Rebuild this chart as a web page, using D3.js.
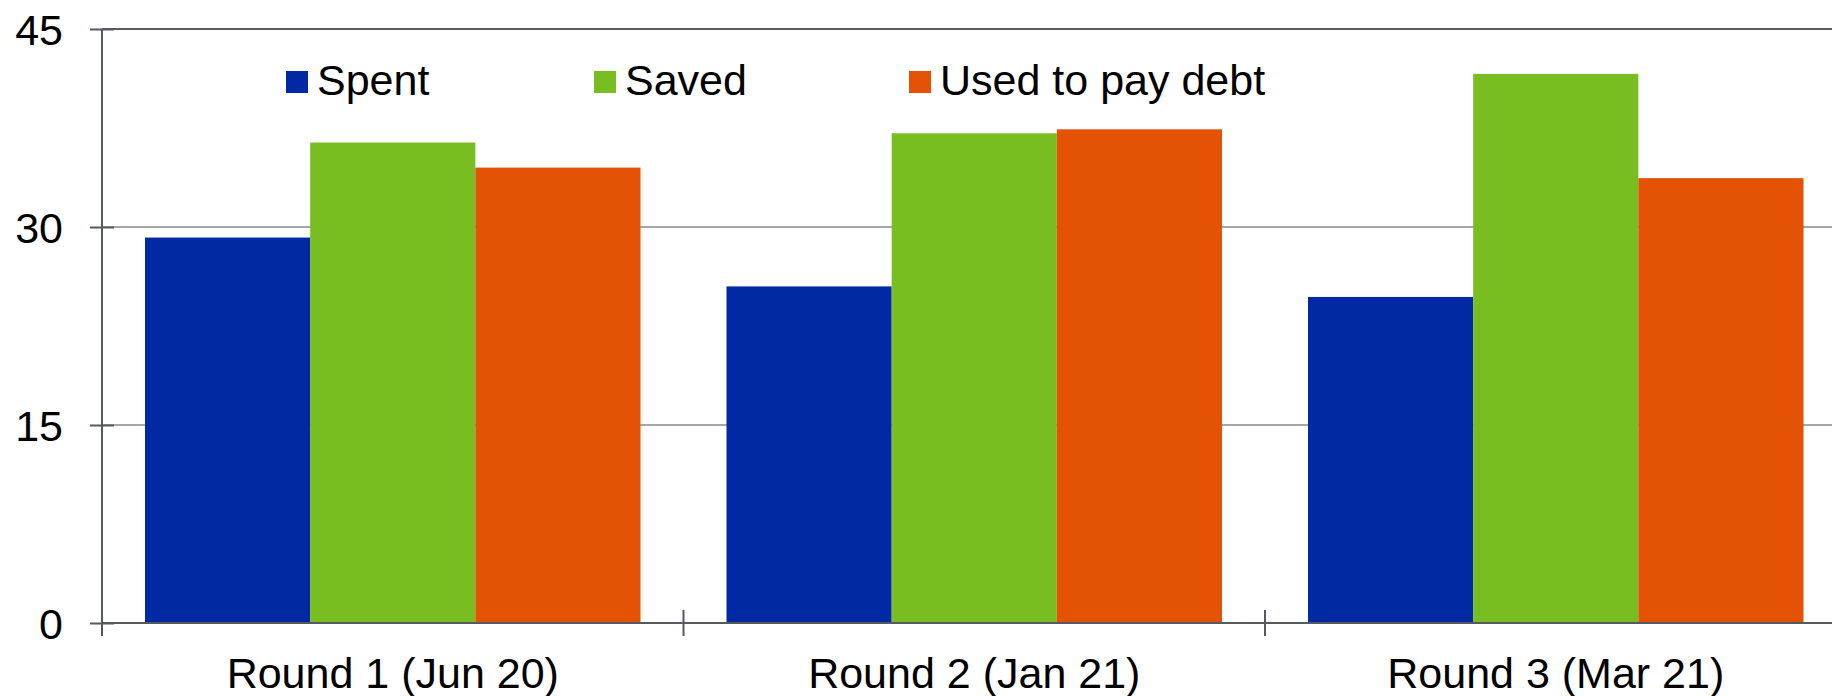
<!DOCTYPE html>
<html>
<head>
<meta charset="utf-8">
<script src="https://cdn.jsdelivr.net/npm/d3@7"></script>
<style>
  body { margin: 0; background: #fff; }
  svg { display: block; font-family: "Liberation Sans", Arial, sans-serif; }
</style>
</head>
<body>
<div id="chart"></div>
<script>
const rounds = ['Round 1 (Jun 20)', 'Round 2 (Jan 21)', 'Round 3 (Mar 21)']
const seriesNames = ['Spent', 'Saved', 'Used to pay debt']
const spent = [29.2, 25.5, 24.7]
const saved = [36.4, 37.1, 41.6]
const debt = [34.5, 37.4, 33.7]
const yTicks = [0, 15, 30, 45]
const colors = ['#0029a3', '#78be20', '#e35205']

const width = 1832
const height = 696
const margin = { left: 102, top: 29, bottom: 73 }

const values = [spent, saved, debt]
const rows = rounds.map((r, i) => ({ round: r, vals: values.map(v => v[i]) }))

const svg = d3.select('#chart')
  .append('svg')
  .attr('width', width)
  .attr('height', height)

const x = d3.scaleBand()
  .domain(rounds)
  .range([margin.left, margin.left + 3 * 581.5])
  .padding(0)

const gap = 43
const xs = d3.scaleBand()
  .domain(d3.range(seriesNames.length))
  .range([gap, x.bandwidth() - gap])
  .padding(0)

const y = d3.scaleLinear()
  .domain([0, 45])
  .range([height - margin.bottom, margin.top])

// gridlines
svg.append('g')
  .selectAll('line')
  .data(yTicks.filter(d => d > 0))
  .join('line')
  .attr('x1', margin.left)
  .attr('x2', width)
  .attr('y1', d => y(d))
  .attr('y2', d => y(d))
  .attr('stroke', d => d === 45 ? '#5a5f66' : '#a3a7ac')
  .attr('stroke-width', 2)

// bars
const group = svg.append('g')
  .selectAll('g')
  .data(rows)
  .join('g')
  .attr('transform', d => `translate(${x(d.round)},0)`)

group.selectAll('rect')
  .data(d => d.vals)
  .join('rect')
  .attr('x', (d, i) => xs(i))
  .attr('width', xs.bandwidth())
  .attr('y', d => y(d))
  .attr('height', d => y(0) - y(d))
  .attr('fill', (d, i) => colors[i])

// y axis
const yAxis = svg.append('g')
  .attr('transform', `translate(${margin.left},0)`)
  .call(d3.axisLeft(y).tickValues(yTicks).tickSize(12))

yAxis.select('.domain').remove()
yAxis.selectAll('.tick line')
  .attr('x2', 12)
  .attr('x1', -12)
  .attr('stroke', '#555a60')
  .attr('stroke-width', 2)
yAxis.selectAll('.tick text')
  .attr('font-size', 43)
  .attr('fill', '#000')
  .attr('x', -39)
  .attr('dy', '0.36em')

svg.append('line')
  .attr('x1', margin.left)
  .attr('x2', margin.left)
  .attr('y1', y(45))
  .attr('y2', y(0) + 13)
  .attr('stroke', '#555a60')
  .attr('stroke-width', 2)

// x axis
const xAxis = svg.append('g')
  .attr('transform', `translate(0,${y(0)})`)
  .call(d3.axisBottom(x).tickSize(0).tickPadding(0))

xAxis.select('.domain').remove()
xAxis.selectAll('.tick text')
  .attr('font-size', 43)
  .attr('fill', '#000')
  .attr('y', 65)
  .attr('dy', 0)

svg.append('line')
  .attr('x1', margin.left)
  .attr('x2', width)
  .attr('y1', y(0))
  .attr('y2', y(0))
  .attr('stroke', '#555a60')
  .attr('stroke-width', 2)

// category separators
svg.append('g')
  .selectAll('line')
  .data(rounds.slice(1))
  .join('line')
  .attr('x1', d => x(d))
  .attr('x2', d => x(d))
  .attr('y1', y(0) - 13)
  .attr('y2', y(0) + 13)
  .attr('stroke', '#555a60')
  .attr('stroke-width', 2)

// legend
const legendX = [286, 594, 909]
const legend = svg.append('g')
  .selectAll('g')
  .data(seriesNames)
  .join('g')
  .attr('transform', (d, i) => `translate(${legendX[i]},71)`)

legend.append('rect')
  .attr('width', 22)
  .attr('height', 22)
  .attr('fill', (d, i) => colors[i])

legend.append('text')
  .attr('x', 31)
  .attr('y', 24)
  .attr('font-size', 43)
  .attr('fill', '#000')
  .text(d => d)
</script>
</body>
</html>
